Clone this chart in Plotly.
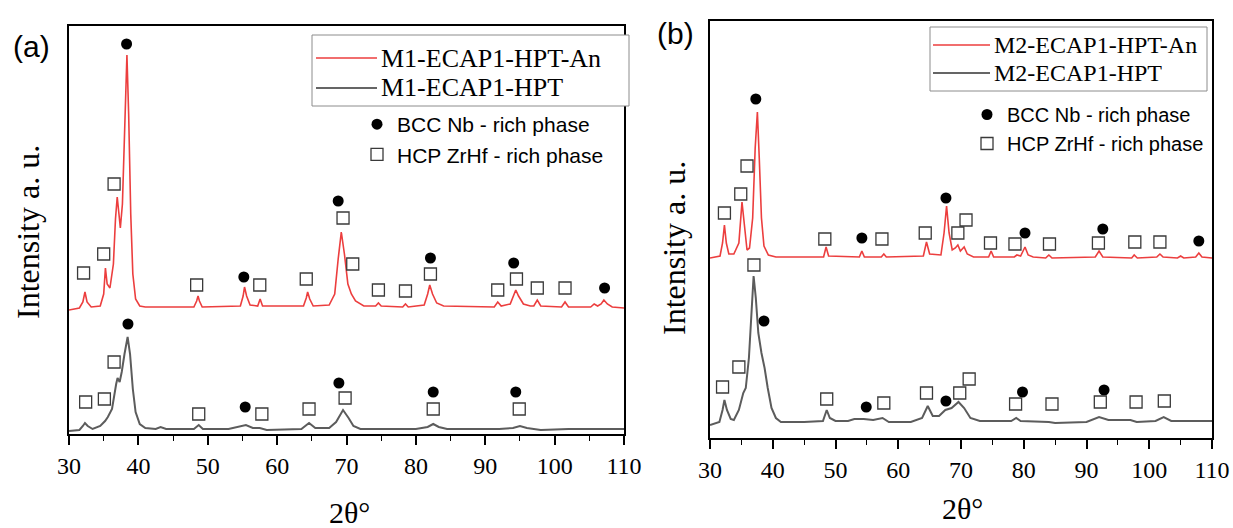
import plotly.graph_objects as go

W, H = 1233, 528

# ---------------- DATA (a) ----------------
A_RED_X = [30.0, 31.5, 32.0, 32.3, 32.6, 33.2, 34.5, 35.0, 35.25, 35.5, 35.9, 36.4, 36.7, 36.95, 37.2, 37.4, 37.7,
           38.0, 38.35, 38.6, 38.9, 39.2, 39.6, 40.2, 41.0, 48.0, 48.4, 48.6, 48.8, 49.2, 54.7, 55.1, 55.3, 55.6,
           56.1, 57.2, 57.55, 57.9, 63.8, 64.2, 64.4, 64.7, 65.2, 67.5, 68.3, 68.8, 69.25, 69.7, 70.2, 70.7, 71.3,
           72.5, 74.2, 74.6, 75.0, 78.1, 78.5, 78.9, 81.2, 81.7, 82.0, 82.4, 83.0, 84.0, 91.3, 91.8, 92.3, 93.6,
           94.1, 94.4, 94.8, 95.5, 96.5, 97.0, 97.5, 98.0, 101.0, 101.5, 102.0, 105.2, 105.7, 106.2, 106.7, 107.1,
           107.6, 108.3, 110.0]
A_RED_Y = [124, 126, 132, 142, 132, 127, 128, 140, 166, 150, 146, 170, 215, 237, 220, 206, 230,
           300, 379, 320, 220, 160, 135, 128, 127, 127, 133, 138, 133, 127, 128, 138, 147, 138,
           129, 128, 135, 128, 128, 136, 142, 135, 128, 129, 140, 175, 202, 180, 150, 140, 133,
           128, 128, 131, 128, 127, 130, 127, 129, 140, 149, 140, 131, 128, 127, 132, 128, 130,
           140, 144, 138, 130, 128, 128, 134, 128, 127, 132, 127, 127, 130, 128, 130, 134,
           130, 127, 126]

A_GRAY_X = [30.0, 31.5, 32.0, 32.3, 32.7, 33.4, 34.5, 35.2, 35.6, 36.2, 36.8, 37.0, 37.3, 37.6, 38.0, 38.45, 38.8,
            39.2, 39.6, 40.2, 41.0, 42.5, 43.2, 44.0, 48.0, 48.7, 49.3, 53.0, 55.5, 56.5, 57.5, 58.5, 63.5, 64.6,
            65.5, 67.5, 68.5, 69.5, 70.3, 71.0, 72.0, 80.0, 81.7, 82.5, 83.3, 84.5, 92.0, 94.0, 95.0, 96.0, 98.0,
            102.0, 110.0]
A_GRAY_Y = [3, 4, 8, 11, 8, 5, 8, 13, 17, 25, 50, 56, 52, 62, 80, 97, 80,
            45, 22, 10, 6, 5, 7, 5, 5, 9, 5, 5, 9, 6, 6, 4, 5, 11,
            6, 6, 12, 24, 16, 8, 5, 5, 7, 10, 7, 5, 5, 6, 8, 6, 4,
            5, 5]

A_RED_BCC_X = [38.3, 55.2, 68.8, 82.1, 94.1, 107.2]
A_RED_BCC_Y = [390, 157, 233, 176, 171, 146]
A_RED_HCP_X = [32.1, 35.0, 36.5, 48.4, 57.5, 64.2, 69.5, 70.9, 74.6, 78.5, 82.1, 91.8, 94.5, 97.5, 101.5]
A_RED_HCP_Y = [161, 180, 250, 149, 149, 155, 216, 170, 144, 143, 160, 144, 155, 146, 146]
A_GRAY_BCC_X = [38.5, 55.4, 68.9, 82.5, 94.4]
A_GRAY_BCC_Y = [110, 27, 51, 42, 42]
A_GRAY_HCP_X = [32.4, 35.1, 36.5, 48.7, 57.8, 64.6, 69.8, 82.5, 94.9]
A_GRAY_HCP_Y = [32, 35, 72, 20, 20, 25, 36, 25, 25]

# ---------------- DATA (b) ----------------
B_RED_X = [30.0, 31.6, 32.0, 32.3, 32.6, 33.0, 33.8, 34.6, 35.1, 35.5, 35.9, 36.3, 36.8, 37.2, 37.55, 37.85, 38.2,
           38.6, 39.3, 40.5, 48.1, 48.5, 48.9, 53.8, 54.2, 54.6, 57.3, 57.7, 58.1, 64.0, 64.5, 65.0, 66.8, 67.3,
           67.7, 68.1, 68.6, 69.1, 69.5, 69.9, 70.5, 71.0, 72.0, 74.4, 74.8, 75.2, 78.5, 78.9, 79.5, 80.2, 80.7,
           81.5, 83.5, 84.0, 84.5, 91.4, 92.0, 92.6, 97.2, 97.6, 98.1, 101.2, 101.7, 102.2, 104.5, 105.0, 105.5,
           107.4, 107.9, 108.4, 110.0]
B_RED_Y = [180, 182, 195, 213, 195, 184, 184, 195, 236, 210, 188, 190, 220, 290, 326, 280, 220,
           192, 183, 181, 181, 191, 182, 181, 187, 181, 181, 184, 181, 182, 196, 184, 183, 205,
           232, 205, 188, 190, 193, 187, 191, 184, 181, 181, 187, 181, 181, 183, 182, 191, 183,
           181, 180, 183, 180, 181, 187, 181, 180, 183, 180, 181, 184, 181, 180, 182, 180,
           181, 185, 181, 180]

B_GRAY_X = [30.0, 31.5, 32.0, 32.3, 32.7, 33.3, 33.8, 34.6, 35.3, 35.7, 36.2, 36.6, 36.95, 37.3, 37.7, 38.2, 38.7,
            39.2, 39.8, 40.5, 41.3, 45.0, 48.0, 48.6, 49.1, 50.0, 52.0, 53.0, 54.5, 56.0, 57.5, 58.5, 62.0, 63.8,
            64.7, 65.5, 66.5, 67.5, 68.5, 69.6, 70.5, 71.5, 73.0, 78.0, 78.8, 79.5, 84.0, 85.0, 90.0, 92.0, 93.5,
            97.0, 98.0, 101.0, 102.3, 103.5, 110.0]
B_GRAY_Y = [13, 16, 28, 38, 28, 19, 18, 28, 45, 50, 80, 130, 162, 140, 105, 85, 70,
            50, 30, 20, 16, 16, 17, 28, 20, 17, 17, 19, 19, 18, 20, 16, 16, 20,
            32, 22, 22, 28, 30, 36, 30, 20, 17, 17, 20, 17, 16, 15, 16, 21, 18,
            18, 16, 17, 21, 17, 17]

B_RED_BCC_X = [37.3, 54.2, 67.6, 80.2, 92.6, 107.9]
B_RED_BCC_Y = [339, 200, 240, 205, 209, 197]
B_RED_HCP_X = [32.3, 34.9, 35.9, 48.3, 57.4, 64.3, 69.5, 70.8, 74.7, 78.6, 84.1, 91.9, 97.7, 101.7]
B_RED_HCP_Y = [225, 244, 272, 199, 199, 205, 205, 218, 195, 194, 194, 195, 196, 196]
B_GRAY_BCC_X = [38.6, 54.9, 67.6, 79.8, 92.8]
B_GRAY_BCC_Y = [117, 31, 37, 46, 48]
B_GRAY_HCP_X = [32.0, 34.6, 37.0, 48.6, 57.7, 64.5, 69.8, 71.3, 78.7, 84.5, 92.2, 97.9, 102.4]
B_GRAY_HCP_Y = [51, 71, 173, 39, 35, 45, 45, 59, 34, 34, 36, 36, 37]

X_TICKS = [30, 40, 50, 60, 70, 80, 90, 100, 110]
A_SERIES_NAMES = ["M1-ECAP1-HPT-An", "M1-ECAP1-HPT"]
B_SERIES_NAMES = ["M2-ECAP1-HPT-An", "M2-ECAP1-HPT"]
PHASE_NAMES = ["BCC Nb - rich phase", "HCP ZrHf - rich phase"]

# ---------------- STYLE ----------------
RED = "rgb(236,62,62)"
GRAY = "rgb(92,92,92)"
LEG_GRAY = "rgb(50,50,50)"
SERIF = "Liberation Serif"
SANS = "Liberation Sans"


def px(x, y):
    return x / W, 1 - y / H


fig = go.Figure()


def add_panel(xa, ya, red_x, red_y, gray_x, gray_y, rbx, rby, rhx, rhy, gbx, gby, ghx, ghy, phase_legend):
    fig.add_trace(go.Scatter(x=red_x, y=red_y, mode="lines", showlegend=False,
                             line=dict(color=RED, width=1.6), xaxis=xa, yaxis=ya))
    fig.add_trace(go.Scatter(x=gray_x, y=gray_y, mode="lines", showlegend=False,
                             line=dict(color=GRAY, width=2), xaxis=xa, yaxis=ya))
    circ = dict(symbol="circle", size=11, color="black")
    sq = dict(symbol="square-open", size=12, color="#3a3a3a", line=dict(width=1.3, color="#3a3a3a"))
    fig.add_trace(go.Scatter(x=rbx, y=rby, mode="markers", marker=circ, name=PHASE_NAMES[0],
                             legend=phase_legend, xaxis=xa, yaxis=ya))
    fig.add_trace(go.Scatter(x=rhx, y=rhy, mode="markers", marker=sq, name=PHASE_NAMES[1],
                             legend=phase_legend, xaxis=xa, yaxis=ya))
    fig.add_trace(go.Scatter(x=gbx, y=gby, mode="markers", marker=circ, showlegend=False,
                             xaxis=xa, yaxis=ya))
    fig.add_trace(go.Scatter(x=ghx, y=ghy, mode="markers", marker=sq, showlegend=False,
                             xaxis=xa, yaxis=ya))


add_panel("x", "y", A_RED_X, A_RED_Y, A_GRAY_X, A_GRAY_Y,
          A_RED_BCC_X, A_RED_BCC_Y, A_RED_HCP_X, A_RED_HCP_Y,
          A_GRAY_BCC_X, A_GRAY_BCC_Y, A_GRAY_HCP_X, A_GRAY_HCP_Y, "legend")
add_panel("x2", "y2", B_RED_X, B_RED_Y, B_GRAY_X, B_GRAY_Y,
          B_RED_BCC_X, B_RED_BCC_Y, B_RED_HCP_X, B_RED_HCP_Y,
          B_GRAY_BCC_X, B_GRAY_BCC_Y, B_GRAY_HCP_X, B_GRAY_HCP_Y, "legend2")


def xaxis_style(domain, anchor):
    return dict(domain=domain, anchor=anchor, range=[30, 110], tickvals=X_TICKS,
                automargin=False,
                showline=True, mirror=True, linecolor="black", linewidth=2,
                ticks="outside", ticklen=9, tickwidth=1.5, tickcolor="black",
                minor=dict(dtick=5, tick0=30, ticks="outside", ticklen=5, tickwidth=1.3, tickcolor="black"),
                showgrid=False, zeroline=False,
                tickfont=dict(family=SERIF, size=24, color="black"))


def yaxis_style(domain, anchor, rng):
    return dict(domain=domain, anchor=anchor, range=rng, showline=True, mirror=True,
                automargin=False,
                linecolor="black", linewidth=2, showticklabels=False, ticks="",
                showgrid=False, zeroline=False)


def phase_legend(x, y, size):
    return dict(x=x, y=y, xanchor="left", yanchor="top", bgcolor="rgba(0,0,0,0)",
                borderwidth=0, tracegroupgap=0,
                font=dict(family=SANS, size=size, color="black"))


# boxed line legends (box, sample lines, labels)
shapes = []
annotations = []


def line_legend_box(x0, x1, y0, y1, rows, line_x0, line_x1, text_x, names, size):
    a, b = px(x0, y0)
    c, d = px(x1, y1)
    shapes.append(dict(type="rect", xref="paper", yref="paper", x0=a, y0=d, x1=c, y1=b,
                       line=dict(color="#8c8c8c", width=1), fillcolor="white", layer="above"))
    for row_y, color, name in zip(rows, [RED, LEG_GRAY], names):
        lx0, ly = px(line_x0, row_y)
        lx1, _ = px(line_x1, row_y)
        shapes.append(dict(type="line", xref="paper", yref="paper", x0=lx0, x1=lx1, y0=ly, y1=ly,
                           line=dict(color=color, width=1.6), layer="above"))
        tx, ty = px(text_x, row_y)
        annotations.append(dict(text=name, x=tx, y=ty, xref="paper", yref="paper", showarrow=False,
                                xanchor="left", yanchor="middle",
                                font=dict(family=SERIF, size=size, color="black")))


line_legend_box(312, 629, 35, 106, [58, 88], 316, 377, 379, A_SERIES_NAMES, 26)
line_legend_box(930, 1207, 27, 91, [45, 73], 933, 990, 992, B_SERIES_NAMES, 24)


def text_ann(text, x, y, family, size, angle=0):
    tx, ty = px(x, y)
    annotations.append(dict(text=text, x=tx, y=ty, xref="paper", yref="paper", showarrow=False,
                            textangle=angle, xanchor="center", yanchor="middle",
                            font=dict(family=family, size=size, color="black")))


text_ann("(a)", 31, 47, SANS, 30)
text_ann("(b)", 675, 33, SANS, 30)
text_ann("2θ°", 349, 512, SERIF, 30)
text_ann("2θ°", 962, 508, SERIF, 30)
text_ann("Intensity a. u.", 28, 232, SERIF, 32, -90)
text_ann("Intensity a. u.", 674, 248, SERIF, 32, -90)

fig.update_layout(
    template="none",
    width=W, height=H,
    font=dict(family=SERIF, color="black"),
    margin=dict(l=0, r=0, t=0, b=0, pad=0, autoexpand=False),
    paper_bgcolor="white", plot_bgcolor="white",
    xaxis=xaxis_style([69 / W, 624 / W], "y"),
    yaxis=yaxis_style([1 - 434 / H, 1 - 26 / H], "x", [0, 408]),
    xaxis2=xaxis_style([710 / W, 1212 / W], "y2"),
    yaxis2=yaxis_style([1 - 438 / H, 1 - 21 / H], "x2", [0, 417]),
    legend=phase_legend(357 / W, 1 - 104 / H, 21),
    legend2=phase_legend(967 / W, 1 - 95 / H, 20),
    shapes=shapes,
    annotations=annotations,
)

fig.write_html("out.html", config={"displayModeBar": False},
               post_script="document.body.style.margin='0';document.body.style.overflow='hidden';")
